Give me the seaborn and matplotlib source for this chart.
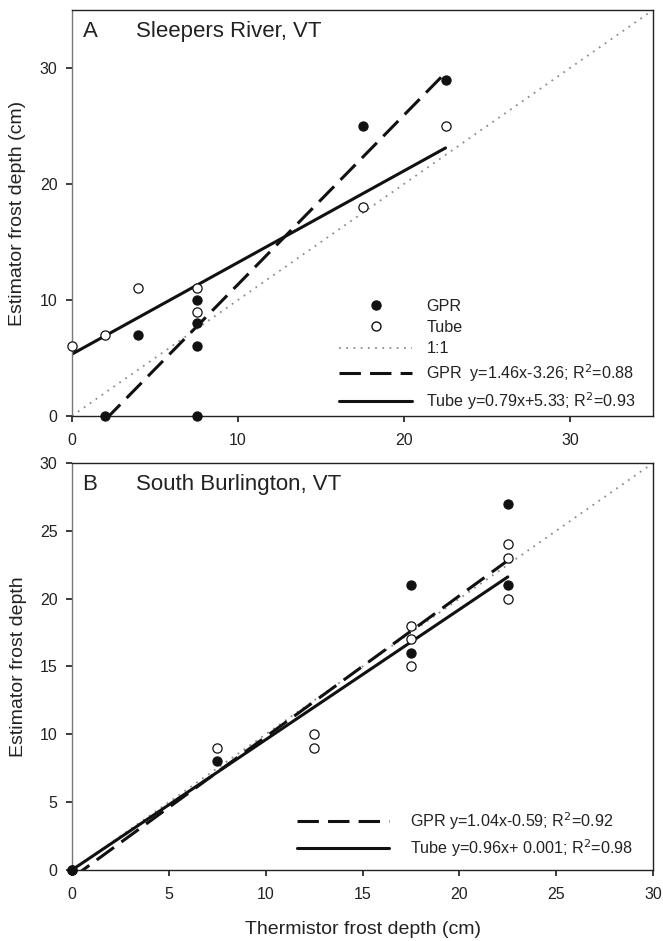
import numpy as np
import pandas as pd
import matplotlib
matplotlib.use("Agg")
import matplotlib.pyplot as plt
import seaborn as sns
from matplotlib.lines import Line2D

# ---------------- data ----------------
# Panel A: Sleepers River, VT
a_gpr_x = [2, 4, 7.5, 7.5, 7.5, 7.5, 17.5, 22.5]
a_gpr_y = [0, 7, 10, 8, 6, 0, 25, 29]
a_tube_x = [0, 2, 4, 7.5, 7.5, 17.5, 22.5]
a_tube_y = [6, 7, 11, 11, 9, 18, 25]
a_gpr_fit = (1.46, -3.26)
a_tube_fit = (0.79, 5.33)
a_gpr_range = [2, 22.5]
a_tube_range = [0, 22.5]

# Panel B: South Burlington, VT
b_gpr_x = [0, 7.5, 17.5, 17.5, 22.5, 22.5]
b_gpr_y = [0, 8, 21, 16, 27, 21]
b_tube_x = [0, 7.5, 12.5, 12.5, 17.5, 17.5, 17.5, 22.5, 22.5, 22.5]
b_tube_y = [0, 9, 10, 9, 18, 17, 15, 24, 23, 20]
b_gpr_fit = (1.04, -0.59)
b_tube_fit = (0.96, 0.001)
b_gpr_range = [0, 22.5]
b_tube_range = [0, 22.5]

a_labels = ["GPR", "Tube", "1:1",
            "GPR  y=1.46x-3.26; R$^2$=0.88",
            "Tube y=0.79x+5.33; R$^2$=0.93"]
b_labels = ["GPR y=1.04x-0.59; R$^2$=0.92",
            "Tube y=0.96x+ 0.001; R$^2$=0.98"]

# ---------------- style ----------------
sns.set_theme(style="ticks")
plt.rcParams["font.family"] = ["Liberation Sans", "DejaVu Sans"]
TXT = "#222222"
plt.rcParams.update({
    "axes.edgecolor": "#222222",
    "axes.linewidth": 1.0,
    "xtick.color": "#222222",
    "ytick.color": "#222222",
    "xtick.labelcolor": TXT,
    "ytick.labelcolor": TXT,
    "xtick.direction": "out",
    "ytick.direction": "out",
    "xtick.major.size": 4,
    "ytick.major.size": 4.5,
    "xtick.major.pad": 8,
    "ytick.major.pad": 6,
    "xtick.labelsize": 11.5,
    "ytick.labelsize": 11.5,
})

fig = plt.figure(figsize=(6.63, 9.41), dpi=100)
axA = fig.add_axes([0.1086, 0.558, 0.8764, 0.4314])
axB = fig.add_axes([0.1086, 0.0755, 0.8764, 0.4325])

DASH = (7, 3)
LW = 2.2
MS = 44
LEGFS = 11.6


def fit_df(fit, rng):
    xs = np.array(rng, dtype=float)
    return pd.DataFrame({"x": xs, "y": fit[0] * xs + fit[1]})


def draw(ax, gx, gy, tx, ty, gfit, grng, tfit, trng, lim):
    one = pd.DataFrame({"x": [0, lim], "y": [0, lim]})
    sns.lineplot(data=one, x="x", y="y", ax=ax, color="#8c8c8c",
                 linestyle=(0, (1, 3)), linewidth=1.3, zorder=1)
    g = fit_df(gfit, grng)
    sns.lineplot(data=g, x="x", y="y", ax=ax, color="#111111",
                 linewidth=LW, zorder=2).lines[-1].set_dashes(DASH)
    t = fit_df(tfit, trng)
    sns.lineplot(data=t, x="x", y="y", ax=ax, color="#111111",
                 linewidth=LW, zorder=2)
    sns.scatterplot(x=gx, y=gy, ax=ax, color="#111111", edgecolor="#111111",
                    s=MS, linewidth=0.8, zorder=4, clip_on=False)
    sns.scatterplot(x=tx, y=ty, ax=ax, color="white", edgecolor="#111111",
                    s=MS, linewidth=0.9, zorder=3, clip_on=False)


draw(axA, a_gpr_x, a_gpr_y, a_tube_x, a_tube_y,
     a_gpr_fit, a_gpr_range, a_tube_fit, a_tube_range, 35)
draw(axB, b_gpr_x, b_gpr_y, b_tube_x, b_tube_y,
     b_gpr_fit, b_gpr_range, b_tube_fit, b_tube_range, 30)

# ---- axes A ----
axA.set_xlim(0, 35)
axA.set_ylim(0, 35)
axA.set_xticks([0, 10, 20, 30])
axA.set_yticks([0, 10, 20, 30])
axA.set_xlabel("")
axA.set_ylabel("Estimator frost depth (cm)", fontsize=14, color=TXT, labelpad=10)
axA.text(0.018, 0.948, "A", transform=axA.transAxes, fontsize=16, color=TXT,
         va="center", ha="left")
axA.text(0.110, 0.948, "Sleepers River, VT", transform=axA.transAxes,
         fontsize=16, color=TXT, va="center", ha="left")

hA = [
    Line2D([], [], linestyle="none", marker="o", markersize=6.5,
           markerfacecolor="#111111", markeredgecolor="#111111"),
    Line2D([], [], linestyle="none", marker="o", markersize=6.5,
           markerfacecolor="white", markeredgecolor="#111111"),
    Line2D([], [], color="#8c8c8c", linestyle=(0, (1, 3)), linewidth=1.3),
    Line2D([], [], color="#111111", linewidth=LW, dashes=DASH),
    Line2D([], [], color="#111111", linewidth=LW),
]
legA = axA.legend(hA, a_labels, loc="lower left", bbox_to_anchor=(0.46, 0.01),
                  frameon=False, fontsize=LEGFS, handlelength=4.5,
                  handletextpad=0.9, labelspacing=0.38, borderpad=0,
                  borderaxespad=0)
for t in legA.get_texts():
    t.set_color(TXT)

# ---- axes B ----
axB.set_xlim(0, 30)
axB.set_ylim(0, 30)
axB.set_xticks(range(0, 31, 5))
axB.set_yticks(range(0, 31, 5))
axB.set_xlabel("Thermistor frost depth (cm)", fontsize=14, color=TXT,
               labelpad=14)
axB.set_ylabel("Estimator frost depth", fontsize=14, color=TXT, labelpad=9)
axB.text(0.018, 0.946, "B", transform=axB.transAxes, fontsize=16, color=TXT,
         va="center", ha="left")
axB.text(0.110, 0.946, "South Burlington, VT", transform=axB.transAxes,
         fontsize=16, color=TXT, va="center", ha="left")
hB = [
    Line2D([], [], color="#111111", linewidth=LW, dashes=DASH),
    Line2D([], [], color="#111111", linewidth=LW),
]
legB = axB.legend(hB, b_labels, loc="lower left", bbox_to_anchor=(0.387, 0.028),
                  frameon=False, fontsize=LEGFS, handlelength=5.7,
                  handletextpad=1.3, labelspacing=0.3, borderpad=0,
                  borderaxespad=0)
for t in legB.get_texts():
    t.set_color(TXT)

for ax in (axA, axB):
    for s in ax.spines.values():
        s.set_visible(True)
    ax.spines["left"].set_color("#777777")
    ax.tick_params(top=False, right=False)

fig.savefig("out.png", dpi=100)
